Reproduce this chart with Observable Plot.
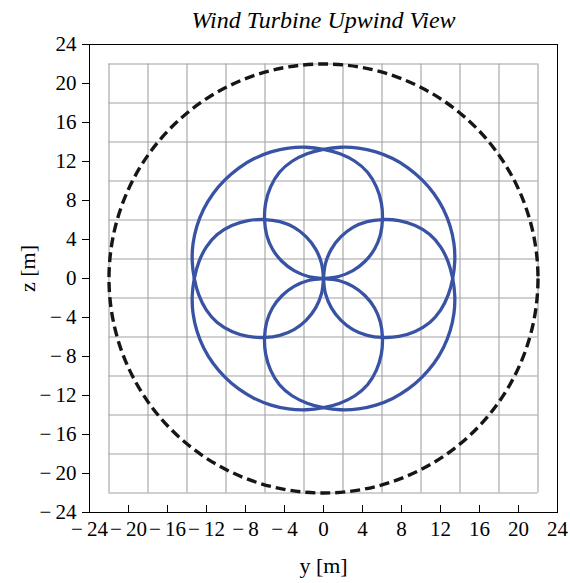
<!DOCTYPE html>
<html>
<head>
<meta charset="utf-8">
<script src="https://cdn.jsdelivr.net/npm/d3@7"></script>
<script src="https://cdn.jsdelivr.net/npm/@observablehq/plot@0.6"></script>
<style>
  html, body { margin: 0; padding: 0; background: white; }
</style>
</head>
<body>
<div id="chart"></div>
<script>
// Axis range and tick labels (metres)
const axisDomain = [-24, 24];
const tickValues = [-24, -20, -16, -12, -8, -4, 0, 4, 8, 12, 16, 20, 24];

// Light grid confined to the ±22 m square
const gridLines = [-22, -18, -14, -10, -6, -2, 2, 6, 10, 14, 18, 22];
const gridExtent = [-22, 22];

// Rotor disc outline
const rotorCenter = [{y: 0, z: 0}];
const rotorRadius = 22;

// Scan path: four petals through the hub, one centred on each diagonal.
// Radius of a petal (m) against the angle away from its centre line (deg).
const petalCenters = [45, 135, 225, 315];
const petalOffset = [0, 7.5, 15, 22.5, 30, 37.5, 45, 52.5, 60, 67.5, 75, 82.5, 90, 97.5, 105, 112.5, 120, 127.5, 135];
const petalRadius = [14.3, 14.28, 14.2, 14.05, 13.85, 13.58, 13.25, 12.9, 12.45, 11.8, 10.85, 9.75, 8.55, 7.35, 6.05, 4.62, 3.12, 1.57, 0];

// Page geometry
const width = 570, height = 583;
const margin = {top: 44, right: 13, bottom: 71, left: 89};
const innerW = width - margin.left - margin.right;
const pxPerMetre = innerW / (axisDomain[1] - axisDomain[0]);
const tickLength = 7;

// Build the petal table (both halves of each petal, in polar order)
const petalRows = [];
for (const c of petalCenters) {
  const offsets = [...petalOffset.slice(1).reverse().map(d => -d), ...petalOffset];
  const radii = [...petalRadius.slice(1).reverse(), ...petalRadius];
  offsets.forEach((d, i) => {
    const a = (c + d) * Math.PI / 180;
    petalRows.push({petal: c, y: radii[i] * Math.cos(a), z: radii[i] * Math.sin(a)});
  });
}

const fmt = d => d < 0 ? "\u2212\u2009" + (-d) : String(d);

const chart = Plot.plot({
  width, height,
  marginTop: margin.top, marginRight: margin.right,
  marginBottom: margin.bottom, marginLeft: margin.left,
  style: {fontFamily: "'Liberation Serif', 'Times New Roman', serif", fontSize: "21px", color: "black", background: "white"},
  x: {domain: axisDomain, ticks: tickValues, tickFormat: fmt, tickSize: 0, tickPadding: 9, label: null},
  y: {domain: axisDomain, ticks: tickValues, tickFormat: fmt, tickSize: tickLength, tickPadding: 6, label: null},
  marks: [
    Plot.ruleX(gridLines, {x: d => d, y1: gridExtent[0], y2: gridExtent[1], stroke: "#a2a2a2", strokeWidth: 1.1}),
    Plot.ruleY(gridLines, {y: d => d, x1: gridExtent[0], x2: gridExtent[1], stroke: "#a2a2a2", strokeWidth: 1.1}),
    Plot.dot(rotorCenter, {x: "y", y: "z", r: rotorRadius * pxPerMetre, fill: "none",
      stroke: "#161616", strokeWidth: 3.4, strokeDasharray: "10,5"}),
    Plot.line(petalRows, {x: "y", y: "z", z: "petal", curve: "catmull-rom",
      stroke: "#3953a4", strokeWidth: 3.3}),
    // inward ticks along the bottom edge
    Plot.ruleX(tickValues, {x: d => d, y1: axisDomain[0], y2: axisDomain[0] + tickLength / pxPerMetre,
      stroke: "black", strokeWidth: 1}),
    Plot.frame({stroke: "black", strokeWidth: 1}),
    Plot.text(["Wind Turbine Upwind View"], {frameAnchor: "top", lineAnchor: "bottom", dy: -17,
      fontStyle: "italic", fontSize: 24}),
    Plot.text(["y [m]"], {frameAnchor: "bottom", lineAnchor: "bottom", dy: 60, fontSize: 22}),
    Plot.text(["z [m]"], {frameAnchor: "left", lineAnchor: "middle", textAnchor: "middle",
      dx: -62, dy: -10, rotate: -90, fontSize: 22})
  ]
});

document.getElementById("chart").appendChild(chart);
</script>
</body>
</html>
